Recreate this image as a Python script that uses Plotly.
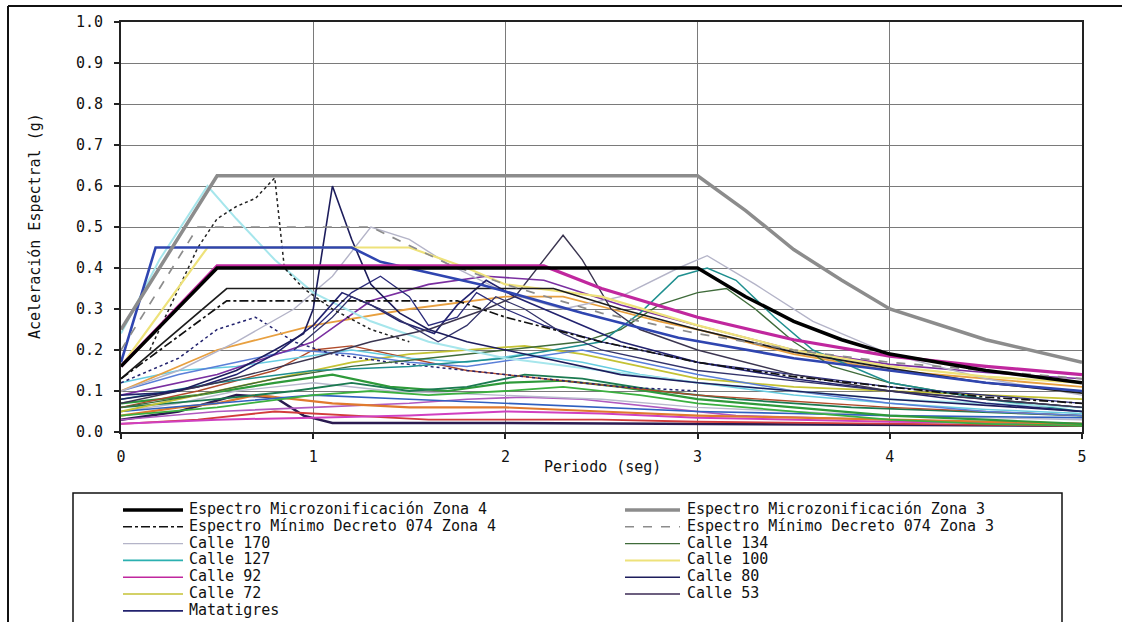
import plotly.graph_objects as go

# ---- Espectros de diseño: (periodo s, Sa g) ----
zona4_micro = [(0, 0.16), (0.5, 0.40), (3.0, 0.40), (3.25, 0.33), (3.5, 0.27), (3.75, 0.225),
               (4.0, 0.19), (4.5, 0.15), (5.0, 0.12)]
zona3_micro = [(0, 0.25), (0.5, 0.625), (3.0, 0.625), (3.25, 0.54), (3.5, 0.445), (3.75, 0.37),
               (4.0, 0.30), (4.5, 0.225), (5.0, 0.17)]
decreto_z4 = [(0, 0.13), (0.55, 0.32), (1.75, 0.32), (2.0, 0.28), (2.5, 0.22), (3.0, 0.17),
              (3.5, 0.135), (4.0, 0.11), (4.5, 0.085), (5.0, 0.07)]
decreto_z3 = [(0, 0.20), (0.4, 0.50), (1.3, 0.50), (1.7, 0.41), (2.0, 0.36), (2.5, 0.29),
              (3.0, 0.24), (3.5, 0.2), (4.0, 0.17), (4.5, 0.15), (5.0, 0.13)]

# ---- Espectros de respuesta por sitio ----
calle_170 = [(0, 0.10), (0.3, 0.15), (0.6, 0.22), (0.9, 0.30), (1.1, 0.38), (1.3, 0.50), (1.5, 0.47),
             (1.7, 0.41), (2.0, 0.34), (2.3, 0.30), (2.6, 0.33), (2.9, 0.40), (3.05, 0.43), (3.3, 0.36),
             (3.6, 0.27), (4.0, 0.19), (4.5, 0.13), (5.0, 0.09)]
calle_170_b = [(0, 0.05), (0.3, 0.07), (0.6, 0.10), (1.0, 0.12), (1.4, 0.10), (2.0, 0.09), (2.5, 0.08),
               (3.0, 0.06), (4.0, 0.04), (5.0, 0.03)]
calle_134 = [(0, 0.06), (0.4, 0.09), (0.8, 0.13), (1.2, 0.16), (1.6, 0.18), (2.0, 0.20), (2.4, 0.22),
             (2.6, 0.25), (2.8, 0.31), (3.0, 0.34), (3.15, 0.35), (3.3, 0.30), (3.5, 0.22), (3.7, 0.16),
             (4.0, 0.12), (4.5, 0.08), (5.0, 0.06)]
calle_127 = [(0, 0.24), (0.2, 0.42), (0.45, 0.60), (0.6, 0.52), (0.8, 0.42), (1.0, 0.34), (1.3, 0.27),
             (1.6, 0.22), (2.0, 0.18), (2.5, 0.15), (3.0, 0.12), (4.0, 0.08), (5.0, 0.06)]
calle_127_b = [(0, 0.08), (0.5, 0.12), (1.0, 0.15), (1.5, 0.16), (2.0, 0.18), (2.5, 0.22), (2.7, 0.29),
               (2.9, 0.38), (3.05, 0.40), (3.2, 0.37), (3.4, 0.28), (3.6, 0.20), (4.0, 0.12),
               (4.5, 0.08), (5.0, 0.05)]
calle_100 = [(0, 0.16), (0.45, 0.45), (1.5, 0.45), (1.8, 0.40), (2.0, 0.36), (2.5, 0.33), (3.0, 0.26),
             (3.5, 0.2), (4.0, 0.16), (4.5, 0.135), (5.0, 0.12)]
calle_92 = [(0, 0.16), (0.5, 0.405), (2.2, 0.405), (2.5, 0.35), (3.0, 0.28), (3.5, 0.225), (4.0, 0.185),
            (4.5, 0.16), (5.0, 0.14)]
calle_92_b = [(0, 0.03), (0.5, 0.05), (1.0, 0.06), (1.5, 0.07), (1.8, 0.08), (2.1, 0.085), (2.4, 0.08),
              (2.8, 0.06), (3.2, 0.04), (4.0, 0.03), (5.0, 0.02)]
calle_80 = [(0, 0.08), (0.3, 0.10), (0.6, 0.15), (0.8, 0.20), (0.95, 0.24), (1.0, 0.30), (1.1, 0.60),
            (1.2, 0.47), (1.3, 0.36), (1.45, 0.29), (1.6, 0.25), (1.8, 0.22), (2.0, 0.20), (2.3, 0.17),
            (2.6, 0.14), (3.0, 0.12), (3.5, 0.10), (4.0, 0.08), (5.0, 0.05)]
calle_80_b = [(0, 0.17), (0.18, 0.45), (1.2, 0.45), (1.35, 0.415), (1.87, 0.36), (2.4, 0.29),
              (2.9, 0.23), (3.5, 0.18), (4.0, 0.15), (4.5, 0.12), (5.0, 0.10)]
calle_80_c = [(0.9, 0.20), (1.1, 0.28), (1.2, 0.33), (1.35, 0.30), (1.5, 0.26), (1.65, 0.22), (1.8, 0.26),
              (1.95, 0.33), (2.1, 0.30), (2.3, 0.24), (2.5, 0.20), (3.0, 0.15), (4.0, 0.10), (5.0, 0.06)]
calle_72 = [(0, 0.05), (0.3, 0.08), (0.6, 0.11), (0.9, 0.14), (1.2, 0.17), (1.5, 0.19), (1.8, 0.20),
            (2.1, 0.21), (2.4, 0.19), (2.7, 0.16), (3.0, 0.13), (3.5, 0.11), (4.0, 0.10), (5.0, 0.08)]
calle_72_b = [(0, 0.04), (0.3, 0.06), (0.5, 0.07), (0.7, 0.09), (0.9, 0.08), (1.1, 0.07), (1.5, 0.06),
              (2.0, 0.06), (2.5, 0.05), (3.0, 0.04), (4.0, 0.03), (5.0, 0.02)]
calle_53 = [(0, 0.07), (0.5, 0.12), (1.0, 0.18), (1.3, 0.22), (1.6, 0.25), (1.9, 0.30), (2.05, 0.33),
            (2.2, 0.42), (2.3, 0.48), (2.4, 0.42), (2.55, 0.30), (2.7, 0.25), (3.0, 0.20), (3.5, 0.14),
            (4.0, 0.10), (5.0, 0.06)]
calle_53_b = [(0, 0.13), (0.55, 0.35), (2.25, 0.35), (2.6, 0.30), (3.0, 0.25), (3.5, 0.195),
              (4.0, 0.155), (4.5, 0.12), (5.0, 0.095)]
matatigres = [(0, 0.09), (0.2, 0.095), (0.4, 0.11), (0.6, 0.14), (0.8, 0.19), (1.0, 0.26), (1.15, 0.34),
              (1.3, 0.31), (1.45, 0.27), (1.63, 0.24), (1.75, 0.31), (1.9, 0.37), (2.05, 0.33),
              (2.3, 0.28), (2.6, 0.22), (3.0, 0.17), (3.5, 0.13), (4.0, 0.10), (4.5, 0.07), (5.0, 0.05)]
matatigres_b = [(1.0, 0.25), (1.2, 0.34), (1.35, 0.38), (1.5, 0.33), (1.6, 0.26), (1.75, 0.28),
                (1.85, 0.34), (2.0, 0.30), (2.2, 0.26), (2.5, 0.22), (2.8, 0.19), (3.0, 0.17),
                (3.5, 0.14), (4.0, 0.11), (5.0, 0.07)]
sitio_verde = [(0, 0.07), (0.4, 0.09), (0.8, 0.12), (1.1, 0.14), (1.4, 0.11), (1.7, 0.10), (2.0, 0.12),
               (2.3, 0.125), (2.6, 0.11), (3.0, 0.08), (3.5, 0.06), (4.0, 0.04), (4.5, 0.03), (5.0, 0.02)]
sitio_verde_b = [(0, 0.06), (0.5, 0.08), (0.9, 0.10), (1.2, 0.12), (1.5, 0.10), (1.8, 0.11), (2.1, 0.14),
                 (2.4, 0.13), (2.8, 0.10), (3.2, 0.08), (3.8, 0.06), (4.4, 0.05), (5.0, 0.04)]
sitio_verde_c = [(0, 0.04), (0.5, 0.06), (1.0, 0.09), (1.3, 0.10), (1.6, 0.09), (2.0, 0.10), (2.3, 0.11),
                 (2.7, 0.09), (3.0, 0.07), (3.5, 0.05), (4.0, 0.03), (4.5, 0.02), (5.0, 0.015)]
sitio_rojo = [(0, 0.02), (0.4, 0.03), (0.8, 0.05), (1.2, 0.04), (1.6, 0.03), (2.0, 0.03), (2.5, 0.03),
              (3.0, 0.025), (4.0, 0.02), (5.0, 0.015)]
sitio_cafe = [(0, 0.06), (0.4, 0.10), (0.8, 0.15), (1.0, 0.20), (1.2, 0.21), (1.5, 0.18), (1.8, 0.15),
              (2.2, 0.13), (2.6, 0.11), (3.0, 0.09), (4.0, 0.06), (5.0, 0.04)]
sitio_base = [(0, 0.03), (0.3, 0.05), (0.6, 0.09), (0.8, 0.085), (0.95, 0.04), (1.1, 0.022), (2.0, 0.022),
              (3.0, 0.02), (4.0, 0.018), (5.0, 0.015)]
sitio_magenta = [(0, 0.02), (0.5, 0.03), (1.0, 0.035), (1.5, 0.04), (2.0, 0.05), (2.5, 0.045),
                 (3.0, 0.035), (4.0, 0.025), (5.0, 0.02)]
sitio_azul = [(0, 0.10), (0.3, 0.14), (0.6, 0.17), (0.9, 0.20), (1.2, 0.19), (1.5, 0.17), (1.8, 0.16),
              (2.1, 0.18), (2.4, 0.20), (2.7, 0.17), (3.0, 0.14), (3.5, 0.10), (4.0, 0.07), (4.5, 0.05),
              (5.0, 0.04)]
sitio_azul_b = [(0, 0.05), (0.5, 0.07), (1.0, 0.09), (1.5, 0.08), (2.0, 0.07), (2.5, 0.06), (3.0, 0.05),
                (3.5, 0.045), (4.0, 0.04), (5.0, 0.035)]
sitio_celeste = [(0, 0.12), (0.3, 0.15), (0.6, 0.16), (0.9, 0.18), (1.2, 0.20), (1.5, 0.18), (1.8, 0.17),
                 (2.1, 0.19), (2.4, 0.17), (2.7, 0.14), (3.0, 0.12), (3.5, 0.09), (4.0, 0.07),
                 (4.5, 0.055), (5.0, 0.045)]
sitio_punteado = [(0.15, 0.20), (0.3, 0.35), (0.4, 0.45), (0.5, 0.52), (0.6, 0.55), (0.7, 0.57),
                  (0.8, 0.62), (0.85, 0.40), (0.95, 0.35), (1.1, 0.30), (1.3, 0.25), (1.5, 0.22)]
sitio_punteado_b = [(0, 0.12), (0.3, 0.18), (0.5, 0.25), (0.7, 0.28), (0.9, 0.22), (1.1, 0.19), (1.4, 0.17),
                    (1.8, 0.15), (2.2, 0.13), (2.6, 0.11), (3.0, 0.10)]
sitio_naranja = [(0, 0.10), (0.5, 0.20), (1.0, 0.26), (1.5, 0.30), (2.0, 0.33), (2.3, 0.33), (2.55, 0.30),
                 (2.8, 0.27), (3.0, 0.25), (3.5, 0.19), (4.0, 0.15), (4.5, 0.13), (5.0, 0.11)]
sitio_morado = [(0, 0.09), (0.5, 0.14), (1.0, 0.22), (1.3, 0.32), (1.6, 0.36), (1.9, 0.38), (2.2, 0.37),
                (2.6, 0.31), (3.0, 0.26), (3.5, 0.20), (4.0, 0.165), (4.5, 0.145), (5.0, 0.13)]

# ---- Estilos: (datos, nombre, color, ancho, trazo), en orden de dibujo ----
series = [
    (sitio_base, "Calle 53", "#2a1a50", 2.5, "solid"),
    (sitio_rojo, "Calle 92", "#d23c3c", 1.8, "solid"),
    (sitio_magenta, "Calle 92", "#d040c0", 2.0, "solid"),
    (calle_92_b, "Calle 92", "#b05ac0", 1.6, "solid"),
    (calle_72_b, "Calle 72", "#e07a2e", 2.2, "solid"),
    (calle_170_b, "Calle 170", "#b8b8cc", 1.4, "solid"),
    (sitio_azul_b, "Calle 80", "#3060c0", 1.6, "solid"),
    (sitio_verde_c, "Calle 134", "#3cb040", 1.8, "solid"),
    (sitio_verde, "Calle 134", "#2e9a3a", 2.2, "solid"),
    (sitio_verde_b, "Calle 134", "#1b7a50", 1.8, "solid"),
    (calle_72, "Calle 72", "#c4c234", 1.8, "solid"),
    (sitio_cafe, "Calle 72", "#b04a2a", 1.4, "solid"),
    (sitio_celeste, "Calle 127", "#66cce0", 1.5, "solid"),
    (sitio_azul, "Calle 80", "#5a7fd8", 1.5, "solid"),
    (sitio_punteado_b, "Matatigres", "#22226e", 1.5, "dot"),
    (sitio_naranja, "Calle 100", "#e8a040", 1.8, "solid"),
    (sitio_morado, "Calle 92", "#7a2fa0", 1.6, "solid"),
    (calle_170, "Calle 170", "#b4b4c8", 1.4, "solid"),
    (calle_134, "Calle 134", "#3f6b3a", 1.4, "solid"),
    (calle_127_b, "Calle 127", "#1f8f8f", 1.5, "solid"),
    (calle_127, "Calle 127", "#a6e6ec", 2.0, "solid"),
    (matatigres_b, "Matatigres", "#2b2b7a", 1.3, "solid"),
    (matatigres, "Matatigres", "#22226e", 1.6, "solid"),
    (calle_80_c, "Calle 80", "#33336a", 1.3, "solid"),
    (calle_53, "Calle 53", "#3b3550", 1.4, "solid"),
    (calle_80, "Calle 80", "#1d1d5c", 1.6, "solid"),
    (sitio_punteado, "Calle 80", "#222222", 1.5, "dot"),
    (calle_100, "Calle 100", "#eee27a", 2.2, "solid"),
    (calle_53_b, "Calle 53", "#1c1c1c", 1.7, "solid"),
    (calle_80_b, "Calle 80", "#2f45b0", 2.6, "solid"),
    (decreto_z4, "Espectro Mínimo Decreto 074 Zona 4", "#111111", 1.7, "dashdot"),
    (decreto_z3, "Espectro Mínimo Decreto 074 Zona 3", "#8c8c8c", 1.7, "dash"),
    (calle_92, "Calle 92", "#c0279e", 3.2, "solid"),
    (zona3_micro, "Espectro Microzonificación Zona 3", "#8c8c8c", 3.5, "solid"),
    (zona4_micro, "Espectro Microzonificación Zona 4", "#000000", 3.5, "solid"),
]

# Entradas de la leyenda (dos columnas, por filas)
legend_items = [
    ("Espectro Microzonificación Zona 4", "#000000", 3.5, "solid"),
    ("Espectro Microzonificación Zona 3", "#8c8c8c", 3.5, "solid"),
    ("Espectro Mínimo Decreto 074 Zona 4", "#111111", 1.6, "dashdot"),
    ("Espectro Mínimo Decreto 074 Zona 3", "#8c8c8c", 1.6, "dash"),
    ("Calle 170", "#b4b4c8", 1.4, "solid"),
    ("Calle 134", "#3f6b3a", 1.4, "solid"),
    ("Calle 127", "#2bb0b0", 1.6, "solid"),
    ("Calle 100", "#eee27a", 2.0, "solid"),
    ("Calle 92", "#c0279e", 1.6, "solid"),
    ("Calle 80", "#1d1d5c", 1.6, "solid"),
    ("Calle 72", "#c4c234", 1.6, "solid"),
    ("Calle 53", "#3b2a55", 1.6, "solid"),
    ("Matatigres", "#22226e", 1.8, "solid"),
]

TEXT_FONT = dict(family="DejaVu Sans Mono", size=15, color="#111")

fig = go.Figure()
for data, name, color, width, dash in series:
    fig.add_trace(go.Scatter(
        x=[p[0] for p in data], y=[p[1] for p in data], mode="lines", name=name,
        line=dict(color=color, width=width, dash=dash), showlegend=False, hoverinfo="x+y+name",
    ))

# plot area in pixels: x 121..1082, y 22..432
PL, PR, PT, PB = 121, 1082, 22, 432


def fx(px):
    return (px - PL) / (PR - PL)


def fy(py):
    return (PB - py) / (PB - PT)


shapes = []
annotations = []

# marco exterior del gráfico
shapes.append(dict(type="line", xref="paper", yref="paper", x0=fx(8), x1=fx(1122), y0=fy(6), y1=fy(6),
                   line=dict(color="#111", width=2)))
shapes.append(dict(type="line", xref="paper", yref="paper", x0=fx(8), x1=fx(8), y0=fy(6), y1=fy(622),
                   line=dict(color="#111", width=2)))

# caja de la leyenda
shapes.append(dict(type="rect", xref="paper", yref="paper", x0=fx(73), x1=fx(1062), y0=fy(640), y1=fy(493),
                   line=dict(color="#111", width=1.5), fillcolor="rgba(0,0,0,0)"))

row_y0, row_dy = 509, 16.8
col_line = [(123, 183), (625, 680)]
col_text = [187, 685]
for i, (label, color, width, dash) in enumerate(legend_items):
    col, row = i % 2, i // 2
    yy = row_y0 + row * row_dy
    shapes.append(dict(type="line", xref="paper", yref="paper",
                       x0=fx(col_line[col][0]), x1=fx(col_line[col][1]), y0=fy(yy + 1), y1=fy(yy + 1),
                       line=dict(color=color, width=width, dash=dash)))
    annotations.append(dict(xref="paper", yref="paper", x=fx(col_text[col]), y=fy(yy), text=label,
                            showarrow=False, xanchor="left", yanchor="middle", font=TEXT_FONT))

# títulos de los ejes
annotations.append(dict(xref="paper", yref="paper", x=fx(602), y=fy(467), text="Periodo (seg)",
                        showarrow=False, xanchor="center", yanchor="middle", font=TEXT_FONT))
annotations.append(dict(xref="paper", yref="paper", x=fx(35), y=fy(226), text="Aceleración Espectral (g)",
                        showarrow=False, xanchor="center", yanchor="middle", textangle=-90,
                        font=TEXT_FONT))

fig.update_layout(
    width=1122, height=622,
    margin=dict(l=PL, r=1122 - PR, t=PT, b=622 - PB),
    paper_bgcolor="white", plot_bgcolor="white",
    showlegend=False,
    font=TEXT_FONT,
    shapes=shapes, annotations=annotations,
)
fig.update_xaxes(range=[0, 5], tickvals=[0, 1, 2, 3, 4, 5], ticks="outside", ticklen=5, tickwidth=1.5,
                 tickcolor="#222", showgrid=True, gridcolor="#7a7a7a", gridwidth=1.2,
                 showline=True, linecolor="#222", linewidth=2, mirror=True, zeroline=False,
                 ticklabelstandoff=5, tickfont=TEXT_FONT)
fig.update_yaxes(range=[0, 1], tickvals=[i / 10 for i in range(11)], tickformat=".1f", ticks="outside",
                 ticklen=5, tickwidth=1.5, tickcolor="#222", showgrid=True, gridcolor="#7a7a7a",
                 gridwidth=1.2, showline=True, linecolor="#222", linewidth=2, mirror=True, zeroline=False,
                 ticklabelstandoff=8, tickfont=TEXT_FONT)

fig.write_html("out.html", config={"displayModeBar": False})
